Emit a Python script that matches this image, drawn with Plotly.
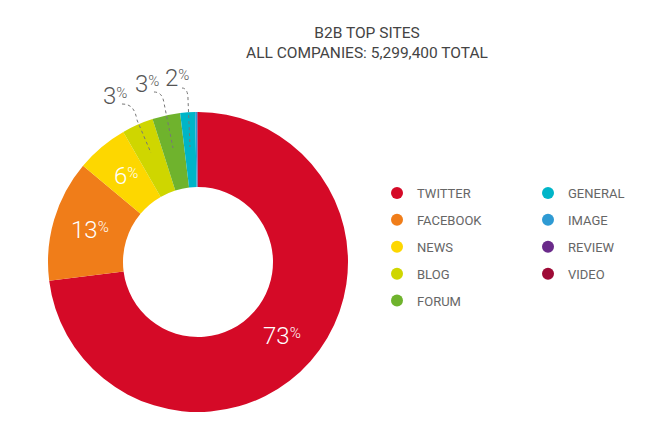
import math
import plotly.graph_objects as go

# ---- data ----
sites = ["TWITTER", "FACEBOOK", "NEWS", "BLOG", "FORUM", "GENERAL", "IMAGE", "REVIEW", "VIDEO"]
shares = [73.0, 13.1, 5.6, 3.4, 3.0, 1.6, 0.2, 0.05, 0.05]
colors = ["#d50a27", "#f07d19", "#fdd700", "#cfd600", "#6fb32d", "#00b5c8", "#2e9ad3", "#6a2a8a", "#9e0a36"]
inside_labels = ["TWITTER", "FACEBOOK", "NEWS"]
outside_labels = ["BLOG", "FORUM", "GENERAL"]

W, H = 654, 433
def px(x):
    return x / W
def py(y):
    return 1 - y / H

# pie geometry (pixels)
CX, CY, R_OUT = 198, 262, 150
HOLE = 0.5

PCT = "<span style='font-size:15px;baseline-shift:6px'>%</span>"

fig = go.Figure()

fig.add_trace(go.Pie(
    labels=sites, values=shares, sort=False, direction="clockwise", rotation=0,
    hole=HOLE,
    marker=dict(colors=colors, line=dict(width=0)),
    textinfo="none",
    domain=dict(x=[px(CX - R_OUT), px(CX + R_OUT)], y=[py(CY + R_OUT), py(CY - R_OUT)]),
    showlegend=False, hoverinfo="label+percent",
))

# inside percentage labels at the middle of each slice's ring
total = sum(shares)
cum = 0.0
r_mid = R_OUT * (1 + HOLE) / 2
for s, v in zip(sites, shares):
    mid = (cum + v / 2) / total * 2 * math.pi
    cum += v
    if s in inside_labels:
        x = CX + r_mid * math.sin(mid)
        y = CY - r_mid * math.cos(mid)
        fig.add_annotation(x=px(x), y=py(y), xref="paper", yref="paper",
                           text=f"{round(v)}" + PCT, showarrow=False,
                           xanchor="center", yanchor="middle",
                           font=dict(family="Roboto", size=24, color="white", weight=300))

# legend entries (column-major, two legends)
for i, (s, c) in enumerate(zip(sites, colors)):
    fig.add_trace(go.Scatter(
        x=[None], y=[None], mode="markers", name=s,
        marker=dict(color=c, size=15, symbol="circle"),
        legend="legend" if i < 5 else "legend2", legendgroup=s,
    ))

# outside labels with dotted leaders
label_pos = {"BLOG": (115, 96), "FORUM": (147, 84), "GENERAL": (177, 78)}
leaders = {
    "BLOG": "M 122 104 C 131 104 135 109 137 120 L 151 153",
    "FORUM": "M 154 92 C 160 92 163 96 164 103 L 173 148",
    "GENERAL": "M 182 88 C 186 88 188 92 188 99 L 190 147",
}
for s in outside_labels:
    v = shares[sites.index(s)]
    x, y = label_pos[s]
    fig.add_annotation(x=px(x), y=py(y), xref="paper", yref="paper",
                       text=f"{round(v)}" + PCT, showarrow=False,
                       xanchor="center", yanchor="middle",
                       font=dict(family="Roboto", size=24, color="#555555", weight=300))
    toks = leaders[s].split()
    out, coord = [], []
    for t in toks:
        if t.isalpha():
            out.append(t)
        else:
            coord.append(float(t))
            if len(coord) == 2:
                out.append(f"{px(coord[0]):.5f},{py(coord[1]):.5f}")
                coord = []
    fig.add_shape(type="path", path=" ".join(out), xref="paper", yref="paper",
                  line=dict(color="#777777", width=1, dash="dot"))

legend_common = dict(
    font=dict(family="Roboto", size=13, color="#666666"),
    bgcolor="rgba(0,0,0,0)", traceorder="grouped", tracegroupgap=7,
    itemsizing="constant", xanchor="left", yanchor="top",
)
fig.update_layout(
    width=W, height=H,
    margin=dict(l=0, r=0, t=0, b=0),
    paper_bgcolor="white", plot_bgcolor="white",
    title=dict(text="B2B TOP SITES<br>ALL COMPANIES: 5,299,400 TOTAL",
               x=px(367), xanchor="center", xref="paper",
               y=py(38), yanchor="top", yref="container",
               font=dict(family="Roboto", size=15.5, color="#444444")),
    xaxis=dict(visible=False), yaxis=dict(visible=False),
    legend=dict(x=px(377), y=py(178), **legend_common),
    legend2=dict(x=px(528), y=py(178), **legend_common),
)

fig.write_html("out.html")
